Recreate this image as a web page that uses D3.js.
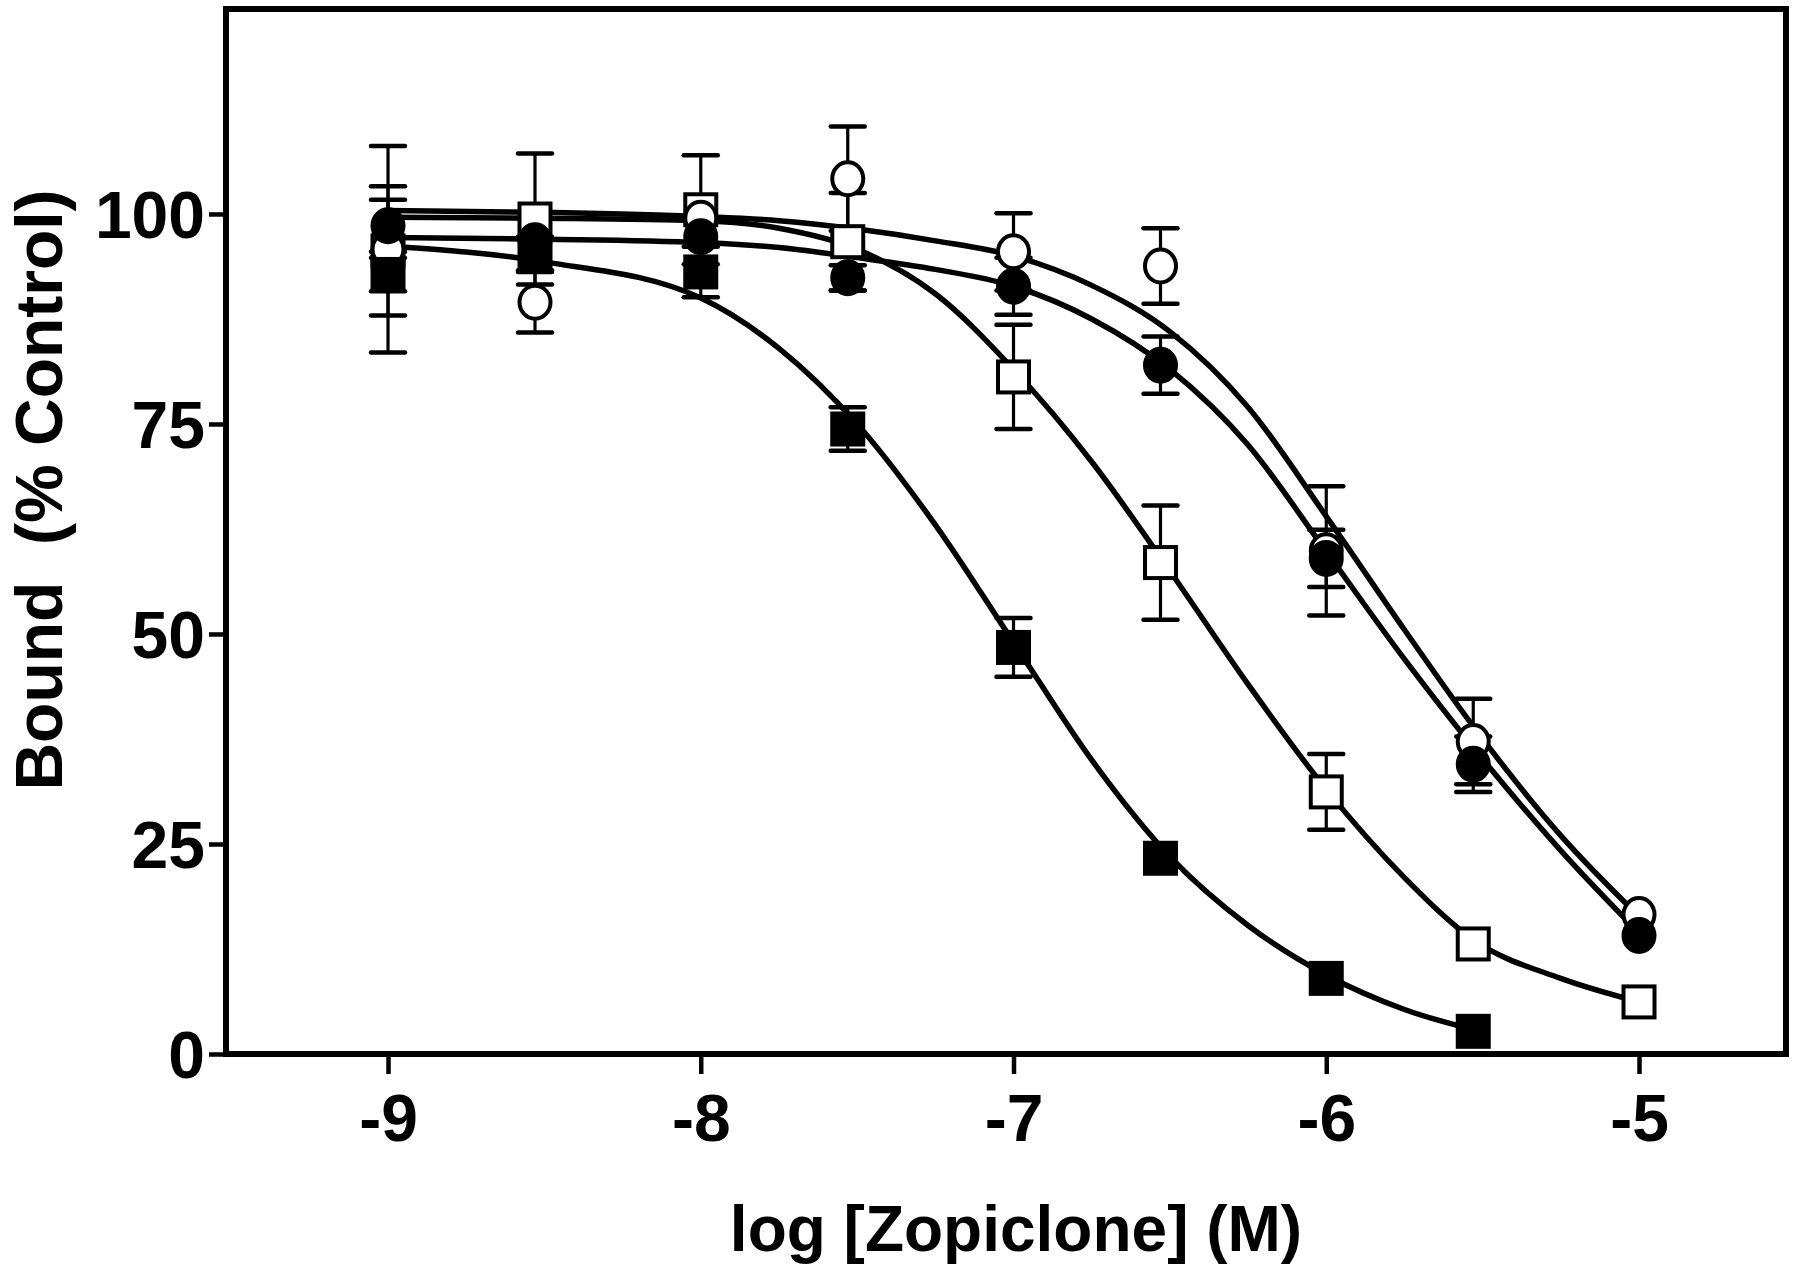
<!DOCTYPE html>
<html>
<head>
<meta charset="utf-8">
<script src="https://cdn.jsdelivr.net/npm/d3@7"></script>
<style>
  html, body { margin: 0; padding: 0; background: #fff; }
  svg { display: block; }
  text { font-family: "Liberation Sans", Arial, Helvetica, sans-serif; font-weight: bold; fill: #000; }
</style>
</head>
<body>
<svg id="chart" width="1800" height="1279"></svg>
<script>
// ---------- data ----------
const concentrations = [-9, -8.53, -8, -7.53, -7, -6.53, -6, -5.53, -5];

// open circles
const openCircleMean = [95.8, 89.5, 99.5, 104.2, 95.5, 93.8, 59.9, 37.2, 16.6];
const openCircleErr  = [12.3, 3.6, 0, 6.2, 4.6, 4.5, 7.7, 5.1, 0];
// filled circles
const filledCircleMean = [98.6, 96.8, 97.3, 92.4, 91.4, 82.0, 59.0, 34.5, 14.1];
const filledCircleErr  = [3.1, 0, 0, 1.5, 3.4, 3.4, 3.4, 3.3, 0];
// open squares
const openSquareMean = [95.6, 99.4, 100.5, 96.7, 80.6, 58.5, 31.2, 13.1, 6.2];
const openSquareErr  = [7.7, 7.8, 6.5, 5.8, 6.2, 6.8, 4.5, 0, 0];
// filled squares
const filledSquareMean = [92.8, 95.3, 93.1, 74.4, 48.4, 23.3, 9.0, 2.7, null];
const filledSquareErr  = [2.0, 2.0, 3.0, 2.6, 3.5, 0, 0, 0, null];

// fitted curves
const curveX = [-9, -8.5, -8, -7.75, -7.5, -7.25, -7, -6.75, -6.5, -6.25, -6, -5.75, -5.53, -5.25, -5];
const openCircleCurve   = [100.4, 100.2, 99.7, 99.2, 98.2, 96.8, 95.0, 91.5, 86.0, 77.0, 64.0, 50.5, 39.0, 26.0, 16.4];
const filledCircleCurve = [97.2, 97.0, 96.6, 96.0, 94.8, 93.4, 91.4, 87.5, 81.5, 72.5, 59.8, 47.0, 36.5, 24.2, 14.4];
const openSquareCurve   = [99.6, 99.5, 99.2, 98.3, 95.8, 90.5, 81.5, 70.5, 57.5, 44.0, 31.5, 21.0, 13.6, 9.0, 6.2];
const filledSquareCurve = [96.2, 94.3, 90.0, 84.0, 75.0, 63.0, 49.0, 35.0, 23.5, 15.3, 9.4, 5.3, 2.9, null, null];

const xTicks = [-9, -8, -7, -6, -5];
const yTicks = [0, 25, 50, 75, 100];
const xTitle = "log [Zopiclone] (M)";
const yTitle = "Bound\u00A0\u00A0(% Control)";

// ---------- layout ----------
const W = 1800, H = 1279;
const margin = { left: 226, right: 14, top: 9, bottom: 225 };
const svg = d3.select("#chart");

const x = d3.scaleLinear().domain([-9.518, -4.530]).range([margin.left, W - margin.right]);
const y = d3.scaleLinear().domain([0, 124.4]).range([H - margin.bottom, margin.top]);

const LINE_W = 5.5;

// curves
const line = d3.line()
  .defined(d => d[1] != null)
  .x(d => x(d[0])).y(d => y(d[1]))
  .curve(d3.curveMonotoneX);

const curves = [openCircleCurve, filledCircleCurve, openSquareCurve, filledSquareCurve];
svg.append("g").selectAll("path").data(curves).join("path")
  .attr("d", c => line(curveX.map((xv, i) => [xv, c[i]])))
  .attr("fill", "none").attr("stroke", "#000").attr("stroke-width", LINE_W)
  .attr("stroke-linejoin", "round").attr("stroke-linecap", "round");

// series definitions
const series = [
  { mean: openSquareMean, err: openSquareErr, shape: "square", fill: "#fff" },
  { mean: openCircleMean, err: openCircleErr, shape: "circle", fill: "#fff" },
  { mean: filledSquareMean, err: filledSquareErr, shape: "square", fill: "#000" },
  { mean: filledCircleMean, err: filledCircleErr, shape: "circle", fill: "#000" }
];

function pts(s) {
  return concentrations.map((c, i) => ({ x: c, m: s.mean[i], e: s.err[i] }))
    .filter(d => d.m != null);
}

// error bars
const CAP = 17;
const eg = svg.append("g").attr("stroke", "#000");
series.forEach(s => {
  const d = pts(s).filter(p => p.e > 0);
  eg.selectAll(null).data(d).join("line")
    .attr("x1", p => x(p.x)).attr("x2", p => x(p.x))
    .attr("y1", p => y(p.m + p.e)).attr("y2", p => y(p.m - p.e))
    .attr("stroke-width", 3.2);
  eg.selectAll(null).data(d.flatMap(p => [p.m + p.e, p.m - p.e].map(v => ({ x: p.x, v }))))
    .join("line")
    .attr("x1", p => x(p.x) - CAP).attr("x2", p => x(p.x) + CAP)
    .attr("y1", p => y(p.v)).attr("y2", p => y(p.v))
    .attr("stroke-width", 4.5).attr("stroke-linecap", "round");
});

// markers
const SQ = 31, R = 15.5;
series.forEach(s => {
  const g = svg.append("g");
  const d = pts(s);
  if (s.shape === "square") {
    g.selectAll("rect").data(d).join("rect")
      .attr("x", p => x(p.x) - SQ / 2).attr("y", p => y(p.m) - SQ / 2)
      .attr("width", SQ).attr("height", SQ)
      .attr("fill", s.fill).attr("stroke", "#000").attr("stroke-width", 4);
  } else {
    g.selectAll("ellipse").data(d).join("ellipse")
      .attr("cx", p => x(p.x)).attr("cy", p => y(p.m))
      .attr("rx", R).attr("ry", R + 1)
      .attr("fill", s.fill).attr("stroke", "#000").attr("stroke-width", 4);
  }
});

// frame
svg.append("rect")
  .attr("x", margin.left).attr("y", margin.top)
  .attr("width", W - margin.left - margin.right)
  .attr("height", H - margin.top - margin.bottom)
  .attr("fill", "none").attr("stroke", "#000").attr("stroke-width", 6);

// axes
const xAxis = d3.axisBottom(x).tickValues(xTicks).tickSize(20).tickPadding(20).tickFormat(d3.format("d"));
const gx = svg.append("g").attr("transform", `translate(0,${H - margin.bottom})`).call(xAxis);
gx.select(".domain").remove();
gx.selectAll(".tick line").attr("stroke", "#000").attr("stroke-width", 4.5);
gx.selectAll(".tick text").attr("font-size", 66).attr("font-family", null).attr("dy", "0.71em")
  .text(d => (d < 0 ? "-" : "") + Math.abs(d));

const yAxis = d3.axisLeft(y).tickValues(yTicks).tickSize(17).tickPadding(4);
const gy = svg.append("g").attr("transform", `translate(${margin.left},0)`).call(yAxis);
gy.select(".domain").remove();
gy.selectAll(".tick line").attr("stroke", "#000").attr("stroke-width", 4.5);
gy.selectAll(".tick text").attr("font-size", 66).attr("font-family", null).attr("dy", "0.36em");

// titles
svg.append("text")
  .attr("x", 1016).attr("y", 1251)
  .attr("text-anchor", "middle").attr("font-size", 64)
  .text(xTitle);

svg.append("text")
  .attr("transform", "translate(62,490) rotate(-90)")
  .attr("text-anchor", "middle").attr("font-size", 66)
  .text(yTitle);
</script>
</body>
</html>
